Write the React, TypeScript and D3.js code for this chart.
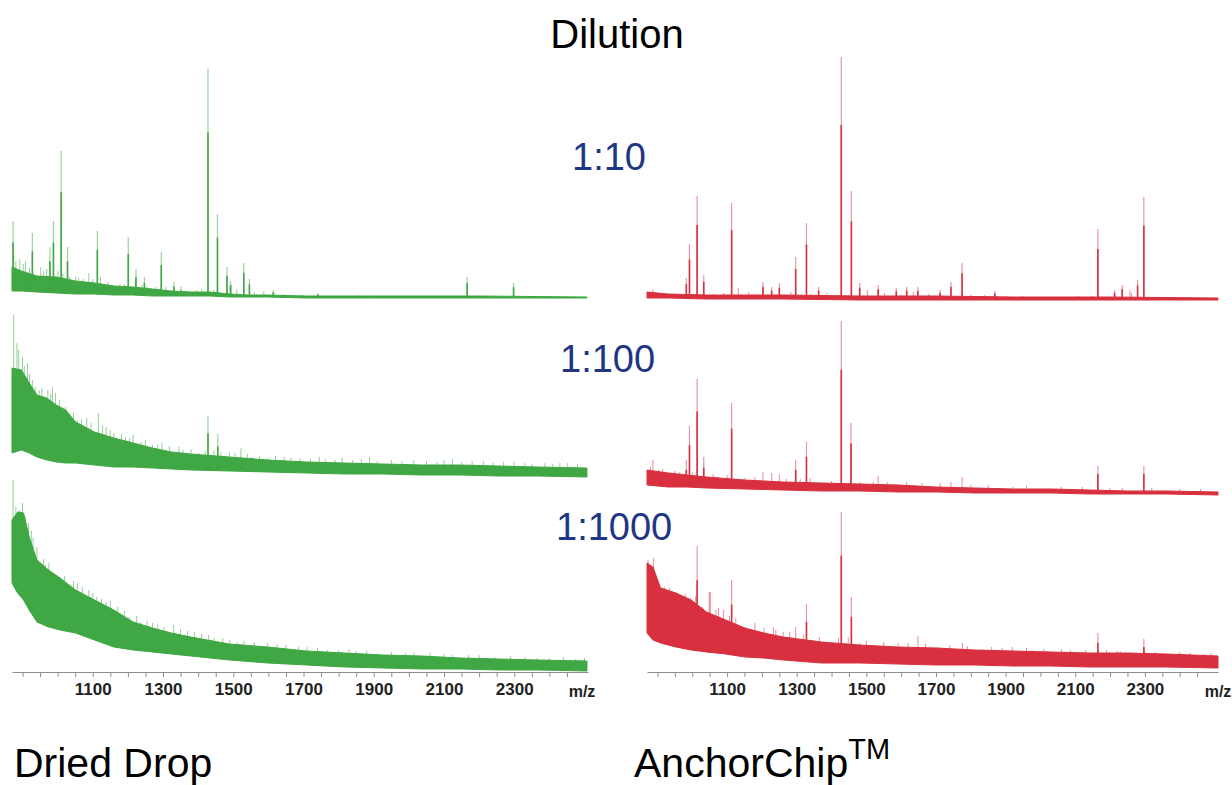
import React, { useEffect, useRef } from 'react';
import * as d3 from 'd3';

// m/z axis
const MZ_DOMAIN = [870, 2510];
const MINOR_TICKS = d3.range(900, 2451, 50);
const TICK_LABELS = [1100, 1300, 1500, 1700, 1900, 2100, 2300];
const DILUTIONS = ['1:10', '1:100', '1:1000'];

// ---- Dried Drop (green) ----
// band: [m/z, lower edge, upper edge] of the noisy baseline; noise/peaks: [m/z, height]
const ddBand10 = [
  [870, 7, 31], [897, 7, 27], [941, 6, 22], [996, 5, 21], [1051, 4, 17], [1105, 4, 15],
  [1160, 3, 12], [1215, 3, 11], [1270, 2, 9], [1324, 2, 7], [1379, 2, 6], [1434, 2, 6],
  [1489, 1, 4], [1543, 1, 3], [1598, 1, 3], [1708, 0, 2], [1900, 0, 2], [2200, 0, 2], [2507, 0, 1],
];
const ddNoise10 = [
  [875, 42], [881, 37], [892, 39], [902, 34], [908, 37], [920, 30], [952, 31], [960, 27], [969, 29],
  [1001, 27], [1015, 24], [1034, 21], [1051, 21], [1060, 20], [1073, 19], [1089, 25], [1100, 19],
  [1122, 21], [1144, 16], [1177, 14], [1190, 14], [1221, 17], [1240, 13], [1254, 12], [1280, 11],
  [1308, 11], [1350, 9], [1352, 12], [1396, 8], [1410, 9], [1445, 8], [1483, 7], [1494, 14],
  [1510, 9], [1560, 6], [1587, 7], [1642, 4], [1700, 3], [1774, 2], [1860, 3], [1900, 2],
  [2050, 2], [2100, 2], [2230, 2], [2300, 3],
];
const ddPeaks10 = [
  [873, 77], [928, 65], [978, 51], [988, 77], [1010, 147], [1028, 51], [1113, 67],
  [1201, 61], [1223, 29], [1247, 21], [1295, 46], [1331, 16], [1428, 230], [1455, 84],
  [1482, 31], [1492, 17], [1530, 35], [1546, 19], [1614, 8], [1741, 5], [2166, 21], [2298, 15],
];

const ddBand100 = [
  [870, 25, 110], [897, 28, 108], [919, 25, 95], [941, 21, 83], [969, 18, 80], [996, 16, 73],
  [1023, 15, 68], [1051, 15, 56], [1105, 13, 46], [1160, 11, 40], [1215, 11, 35], [1270, 10, 30],
  [1324, 9, 26], [1379, 8, 24], [1489, 7, 21], [1598, 6, 18], [1708, 5, 16], [1817, 4, 15],
  [1927, 4, 14], [2036, 3, 13], [2146, 3, 13], [2255, 2, 12], [2365, 2, 11], [2507, 1, 10],
];
const ddNoise100 = [
  [875, 163], [884, 135], [889, 128], [900, 121], [905, 112], [914, 115], [920, 104], [928, 98],
  [936, 91], [947, 88], [955, 90], [963, 81], [972, 88], [980, 84], [985, 91], [994, 85],
  [1005, 78], [1023, 71], [1034, 61], [1045, 66], [1056, 58], [1068, 59], [1083, 60], [1095, 55],
  [1116, 65], [1128, 52], [1138, 51], [1150, 48], [1160, 45], [1182, 44], [1193, 41], [1205, 40],
  [1215, 43], [1237, 36], [1250, 38], [1270, 33], [1285, 34], [1297, 35], [1318, 32], [1345, 31],
  [1357, 28], [1380, 29], [1401, 25], [1420, 27], [1445, 28], [1465, 26], [1489, 26], [1505, 25],
  [1522, 30], [1540, 24], [1554, 21], [1575, 22], [1598, 20], [1620, 22], [1645, 21], [1664, 20],
  [1690, 20], [1720, 19], [1745, 21], [1762, 19], [1790, 18], [1810, 20], [1840, 18], [1865, 19],
  [1888, 21], [1910, 17], [1950, 18], [1980, 17], [2014, 18], [2050, 17], [2080, 16], [2100, 18],
  [2124, 19], [2150, 16], [2180, 17], [2212, 17], [2240, 15], [2270, 16], [2299, 16], [2330, 15],
  [2350, 14], [2387, 15], [2410, 14], [2430, 15], [2452, 15], [2480, 14],
];
const ddPeaks100 = [[1428, 62], [1456, 44]];

const ddBand1000 = [
  [870, 88, 151], [886, 78, 159], [903, 71, 158], [919, 61, 134], [941, 49, 111], [974, 44, 101],
  [1007, 41, 93], [1051, 38, 81], [1105, 31, 71], [1160, 24, 61], [1215, 21, 49], [1270, 19, 43],
  [1324, 17, 38], [1379, 15, 34], [1489, 11, 27], [1598, 8, 24], [1708, 6, 20], [1817, 4, 18],
  [1927, 3, 16], [2036, 2, 15], [2146, 2, 13], [2255, 1, 12], [2365, 1, 11], [2507, 0, 10],
];
const ddNoise1000 = [
  [873, 191], [881, 164], [892, 161], [900, 168], [908, 154], [917, 148], [925, 140], [930, 133],
  [941, 124], [952, 108], [960, 112], [965, 106], [975, 108], [983, 98], [996, 96], [1012, 91],
  [1020, 95], [1034, 86], [1045, 90], [1056, 88], [1070, 84], [1089, 81], [1100, 78], [1111, 74],
  [1125, 72], [1138, 69], [1150, 70], [1171, 64], [1190, 60], [1204, 54], [1225, 55], [1237, 49],
  [1255, 50], [1270, 48], [1285, 47], [1303, 44], [1330, 46], [1350, 42], [1370, 40], [1390, 39],
  [1410, 37], [1430, 36], [1445, 33], [1470, 33], [1490, 31], [1511, 29], [1530, 30], [1560, 29],
  [1598, 28], [1625, 27], [1650, 26], [1686, 24], [1710, 24], [1740, 23], [1768, 21], [1800, 21],
  [1830, 22], [1850, 20], [1880, 20], [1950, 19], [1990, 18], [2014, 18], [2060, 18], [2100, 17],
  [2124, 16], [2170, 16], [2200, 16], [2244, 14], [2290, 15], [2330, 14], [2365, 13], [2400, 13],
  [2440, 14], [2474, 12], [2500, 13],
];
const ddPeaks1000: number[][] = [];

// ---- AnchorChip (red) ----
const acBand10 = [
  [870, 2, 8], [931, 2, 6], [1041, 1, 5], [1261, 1, 5], [1481, 0, 4], [1701, 0, 4],
  [1921, 0, 3], [2200, 0, 3], [2510, 0, 2],
];
const acNoise10 = [
  [887, 11], [900, 7], [931, 5], [950, 6], [1060, 6], [1090, 7], [1132, 12], [1162, 8], [1180, 6],
  [1283, 8], [1340, 6], [1387, 7], [1415, 5], [1503, 10], [1552, 7], [1600, 5], [1635, 8],
  [1679, 6], [1800, 5], [1839, 5], [1899, 4], [1950, 4], [2050, 3], [2108, 4], [2150, 4],
  [2257, 10], [2262, 7], [2400, 3],
];
const acPeaks10 = [
  [983, 22], [992, 56], [1014, 104], [1033, 25], [1113, 97], [1203, 18], [1228, 13], [1250, 17],
  [1297, 43], [1328, 77], [1363, 13], [1428, 243], [1457, 109], [1481, 17], [1534, 15], [1586, 12],
  [1616, 13], [1648, 13], [1712, 10], [1743, 18], [1775, 37], [1869, 9], [2165, 71], [2213, 10],
  [2235, 15], [2279, 20], [2297, 103],
];

const acBand100 = [
  [870, 10, 25], [931, 8, 22], [986, 8, 20], [1041, 7, 18], [1151, 6, 15], [1261, 5, 13],
  [1371, 4, 12], [1481, 4, 11], [1591, 3, 10], [1701, 3, 8], [1811, 2, 7], [1921, 2, 6],
  [2031, 2, 6], [2141, 1, 5], [2251, 1, 4], [2361, 1, 4], [2510, 0, 3],
];
const acNoise100 = [
  [880, 28], [887, 35], [903, 25], [915, 26], [931, 22], [950, 24], [964, 23], [1000, 23],
  [1060, 21], [1074, 18], [1100, 20], [1151, 17], [1180, 18], [1203, 23], [1228, 22], [1250, 21],
  [1270, 16], [1310, 16], [1338, 17], [1400, 14], [1481, 13], [1520, 13], [1534, 19], [1560, 13],
  [1616, 13], [1660, 12], [1712, 12], [1743, 13], [1775, 18], [1800, 10], [1850, 10], [1921, 8],
  [1960, 9], [2060, 8], [2120, 8], [2200, 7], [2235, 7], [2320, 7], [2400, 6], [2460, 6],
];
const acPeaks100 = [
  [983, 35], [992, 69], [1014, 116], [1033, 38], [1113, 92], [1297, 35], [1328, 53],
  [1428, 174], [1456, 72], [2165, 29], [2297, 29],
];

const acBand1000 = [
  [870, 35, 105], [887, 28, 101], [909, 25, 80], [953, 21, 75], [997, 18, 68], [1041, 16, 56],
  [1096, 14, 48], [1151, 11, 40], [1206, 10, 35], [1261, 8, 31], [1371, 5, 26], [1481, 5, 23],
  [1591, 4, 21], [1701, 3, 20], [1811, 3, 18], [1921, 2, 17], [2031, 2, 16], [2141, 1, 15],
  [2251, 1, 15], [2361, 1, 14], [2510, 0, 12],
];
const acNoise1000 = [
  [873, 108], [889, 110], [900, 88], [920, 81], [935, 80], [942, 75], [964, 71], [980, 74],
  [994, 70], [1010, 72], [1030, 61], [1052, 76], [1068, 58], [1075, 60], [1090, 58], [1107, 52],
  [1125, 50], [1151, 41], [1180, 45], [1206, 40], [1233, 41], [1240, 38], [1261, 36], [1280, 36],
  [1297, 41], [1320, 33], [1349, 28], [1365, 31], [1393, 26], [1420, 30], [1448, 31], [1481, 25],
  [1500, 27], [1525, 23], [1550, 26], [1591, 25], [1620, 25], [1648, 32], [1670, 24], [1701, 21],
  [1740, 23], [1776, 25], [1790, 22], [1833, 19], [1860, 21], [1890, 20], [1919, 21], [1960, 20],
  [1976, 18], [2010, 19], [2060, 19], [2086, 18], [2130, 18], [2190, 18], [2220, 17], [2229, 17],
  [2300, 17], [2330, 16], [2361, 15], [2400, 16], [2430, 15], [2471, 14], [2490, 15],
];
const acPeaks1000 = [
  [1014, 122], [1049, 76], [1113, 88], [1328, 64], [1428, 156], [1457, 71], [2165, 35], [2297, 29],
];

const GREEN = '#3fa743';
const RED = '#d8303f';
const NAVY = '#1f3585';
const FONT = 'Liberation Sans, Arial, Helvetica, sans-serif';

const panels = [
  { band: ddBand10, noise: ddNoise10, peaks: ddPeaks10, side: 'left', zero: 298 },
  { band: ddBand100, noise: ddNoise100, peaks: ddPeaks100, side: 'left', zero: 478 },
  { band: ddBand1000, noise: ddNoise1000, peaks: ddPeaks1000, side: 'left', zero: 671 },
  { band: acBand10, noise: acNoise10, peaks: acPeaks10, side: 'right', zero: 300 },
  { band: acBand100, noise: acNoise100, peaks: acPeaks100, side: 'right', zero: 495 },
  { band: acBand1000, noise: acNoise1000, peaks: acPeaks1000, side: 'right', zero: 668 },
];

export default function App() {
  const gRef = useRef<SVGGElement>(null);

  useEffect(() => {
    const root = d3.select(gRef.current);
    root.selectAll('*').remove();

    const xLeft = d3.scaleLinear().domain(MZ_DOMAIN).range([12, 588]);
    const xRight = d3.scaleLinear().domain(MZ_DOMAIN).range([647, 1218]);

    panels.forEach(p => {
      const x = p.side === 'left' ? xLeft : xRight;
      const color = p.side === 'left' ? GREEN : RED;
      const y = d3.scaleLinear().domain([0, 250]).range([p.zero, p.zero - 250]);
      // band edges at any m/z, used as the foot of spikes and peaks
      const hiAt = d3.scaleLinear().domain(p.band.map(d => d[0])).range(p.band.map(d => d[2])).clamp(true);
      const loAt = d3.scaleLinear().domain(p.band.map(d => d[0])).range(p.band.map(d => d[1])).clamp(true);
      const g = root.append('g');

      // noise spikes above the band (lighter tips)
      g.selectAll('line.noise')
        .data(p.noise)
        .join('line')
        .attr('x1', d => x(d[0]))
        .attr('x2', d => x(d[0]))
        .attr('y1', d => y(hiAt(d[0])) + 2)
        .attr('y2', d => y(d[1]))
        .attr('stroke', color)
        .attr('stroke-opacity', 0.55)
        .attr('stroke-width', 1);

      // baseline noise band
      const area = d3.area<number[]>()
        .x(d => x(d[0]))
        .y0(d => y(d[1]))
        .y1(d => y(d[2]));
      g.append('path')
        .datum(p.band)
        .attr('d', area)
        .attr('fill', color)
        .attr('stroke', color)
        .attr('stroke-width', 1);

      // peaks: faint full height + solid core
      g.selectAll('line.peak')
        .data(p.peaks)
        .join('line')
        .attr('x1', d => x(d[0]))
        .attr('x2', d => x(d[0]))
        .attr('y1', d => y(loAt(d[0])))
        .attr('y2', d => y(d[1]))
        .attr('stroke', color)
        .attr('stroke-opacity', 0.5)
        .attr('stroke-width', 1.2);
      g.selectAll('line.peakcore')
        .data(p.peaks)
        .join('line')
        .attr('x1', d => x(d[0]))
        .attr('x2', d => x(d[0]))
        .attr('y1', d => y(loAt(d[0])))
        .attr('y2', d => y(Math.max(d[1] * 0.72, loAt(d[0]))))
        .attr('stroke', color)
        .attr('stroke-width', 1.6);
    });

    // m/z axes
    [xLeft, xRight].forEach((x, i) => {
      const axis = d3.axisBottom(x)
        .tickValues(MINOR_TICKS)
        .tickSize(5)
        .tickSizeOuter(0)
        .tickPadding(6)
        .tickFormat(d => (TICK_LABELS.includes(+d) ? String(d) : ''));
      const ag = root.append('g')
        .attr('transform', 'translate(0,672)')
        .call(axis);
      ag.select('.domain').attr('stroke', '#8c8c8c').attr('stroke-width', 1.2);
      ag.selectAll('.tick line').attr('stroke', '#8c8c8c');
      ag.selectAll('.tick text')
        .attr('font-family', FONT)
        .attr('font-size', 17)
        .attr('font-weight', 'bold')
        .attr('fill', '#222');
      root.append('text')
        .attr('x', x.range()[1] - (i === 0 ? 6 : 0))
        .attr('y', 697)
        .attr('text-anchor', 'middle')
        .attr('font-family', FONT)
        .attr('font-size', 16)
        .attr('font-weight', 'bold')
        .attr('fill', '#222')
        .text('m/z');
    });
  }, []);

  const dilX = [572, 560, 556];
  const dilY = [170, 372, 540];

  return (
    <svg
      width={1232}
      height={785}
      style={{ position: 'absolute', left: 0, top: 0, background: '#fff' }}
    >
      <g ref={gRef} />
      <text x={617} y={48} textAnchor="middle" fontFamily={FONT} fontSize={40} fill="#000">Dilution</text>
      {DILUTIONS.map((t, i) => (
        <text key={t} x={dilX[i]} y={dilY[i]} fontFamily={FONT} fontSize={38} fill={NAVY}>
          {t}
        </text>
      ))}
      <text x={14} y={777} fontFamily={FONT} fontSize={41} fill="#000">Dried Drop</text>
      <text x={634} y={777} fontFamily={FONT} fontSize={41} fill="#000">
        AnchorChip<tspan fontSize={29} dy={-18}>TM</tspan>
      </text>
    </svg>
  );
}
